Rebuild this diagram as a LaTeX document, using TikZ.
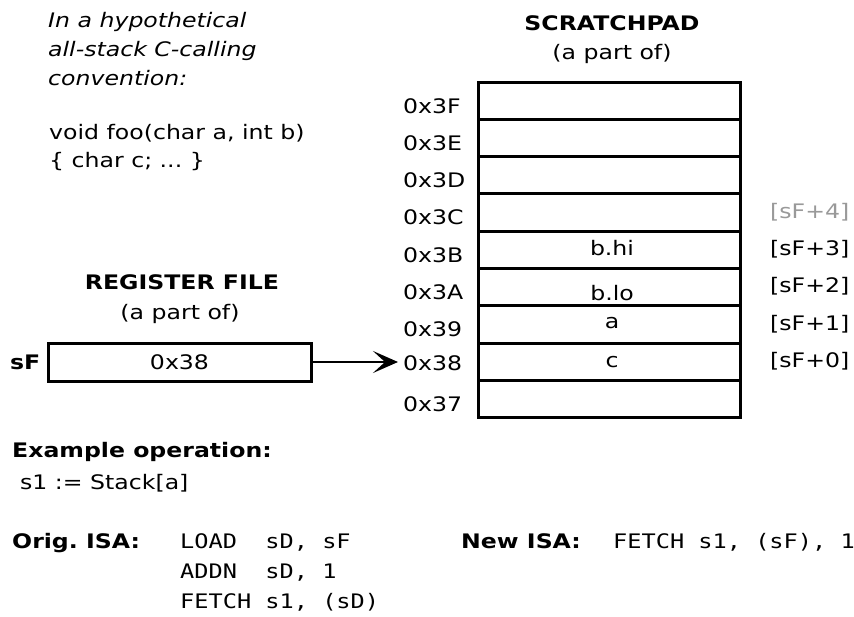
\documentclass[tikz,border=0pt]{standalone}
\usepackage{fontspec}
\setmainfont{DejaVu Sans}[FakeStretch=1.18]
\setmonofont{DejaVu Sans Mono}[FakeStretch=1.18]
\usetikzlibrary{arrows.meta}
\frenchspacing
\begin{document}
\begin{tikzpicture}[x=1pt,y=-1pt,
  every node/.style={inner sep=0pt,font=\fontsize{20}{29}\selectfont},
  txt/.style={anchor=base west},
  ctr/.style={anchor=base},
  cell/.style={draw,line width=3pt,minimum width=262pt,minimum height=37.33pt},
  regbox/.style={draw,line width=3pt,minimum width=263pt,minimum height=38pt},
  ptr/.style={line width=2.6pt,-{Stealth[length=25pt,width=22pt,inset=12pt]}}
]
\useasboundingbox (0,0) rectangle (854,616);

% intro text
\node[txt,font=\fontsize{20}{29}\selectfont\itshape] (i1) at (48,27) {In a hypothetical};
\node[txt,font=\fontsize{20}{29}\selectfont\itshape] (i2) at (48,56) {all-stack C-calling};
\node[txt,font=\fontsize{20}{29}\selectfont\itshape] (i3) at (48,85) {convention:};
\node[txt] (c1) at (49,139) {void foo(char a, int b)};
\node[txt] (c2) at (49,167) {\{ char c; ... \}};

% scratchpad
\node[ctr,font=\fontsize{20}{29}\selectfont\bfseries] (spt) at (612,30) {SCRATCHPAD};
\node[ctr] (sps) at (612,59) {(a part of)};
\foreach \k in {0,...,8}{
  \node[cell] (r\k) at (609,{100.67+37.33*\k}) {};
}
\node[txt] (a3F) at (403,113) {0x3F};
\node[txt] (a3E) at (403,150) {0x3E};
\node[txt] (a3D) at (403,187) {0x3D};
\node[txt] (a3C) at (403,224) {0x3C};
\node[txt] (a3B) at (403,262) {0x3B};
\node[txt] (a3A) at (403,299) {0x3A};
\node[txt] (a39) at (403,336) {0x39};
\node[txt] (a38) at (403,370) {0x38};
\node[txt] (a37) at (403,411) {0x37};

\node[ctr] (vbhi) at (612,255) {b.hi};
\node[ctr] (vblo) at (612,300) {b.lo};
\node[ctr] (va) at (612,328) {a};
\node[ctr] (vc) at (612,367) {c};

\node[txt,text=black!40] (o4) at (770,218) {[sF+4]};
\node[txt] (o3) at (770,255) {[sF+3]};
\node[txt] (o2) at (770,292) {[sF+2]};
\node[txt] (o1) at (770,330) {[sF+1]};
\node[txt] (o0) at (770,367) {[sF+0]};

% register file
\node[ctr,font=\fontsize{20}{29}\selectfont\bfseries] (rft) at (182,289) {REGISTER FILE};
\node[ctr] (rfs) at (180,319) {(a part of)};
\node[regbox] (reg) at (179.5,362) {0x38};
\node[txt,font=\fontsize{20}{29}\selectfont\bfseries] (sF) at (10,369) {sF};
\draw[ptr] (reg.east) -- ([xshift=-5pt]reg.east -| a38.west);

% example
\node[txt,font=\fontsize{20}{29}\selectfont\bfseries] (ex) at (12,457) {Example operation:};
\node[txt] (ex1) at (20,489) {s1 := Stack[a]};
\node[txt,font=\fontsize{20}{29}\selectfont\bfseries] (orig) at (12,548) {Orig. ISA:};
\node[txt,font=\fontsize{20}{29}\selectfont\ttfamily] (l1) at (180,548) {LOAD\ \ sD, sF};
\node[txt,font=\fontsize{20}{29}\selectfont\ttfamily] (l2) at (180,578) {ADDN\ \ sD, 1};
\node[txt,font=\fontsize{20}{29}\selectfont\ttfamily] (l3) at (180,608) {FETCH s1, (sD)};
\node[txt,font=\fontsize{20}{29}\selectfont\bfseries] (newi) at (461,548) {New ISA:};
\node[txt,font=\fontsize{20}{29}\selectfont\ttfamily] (n1) at (613,548) {FETCH s1, (sF), 1};
\end{tikzpicture}
\end{document}
